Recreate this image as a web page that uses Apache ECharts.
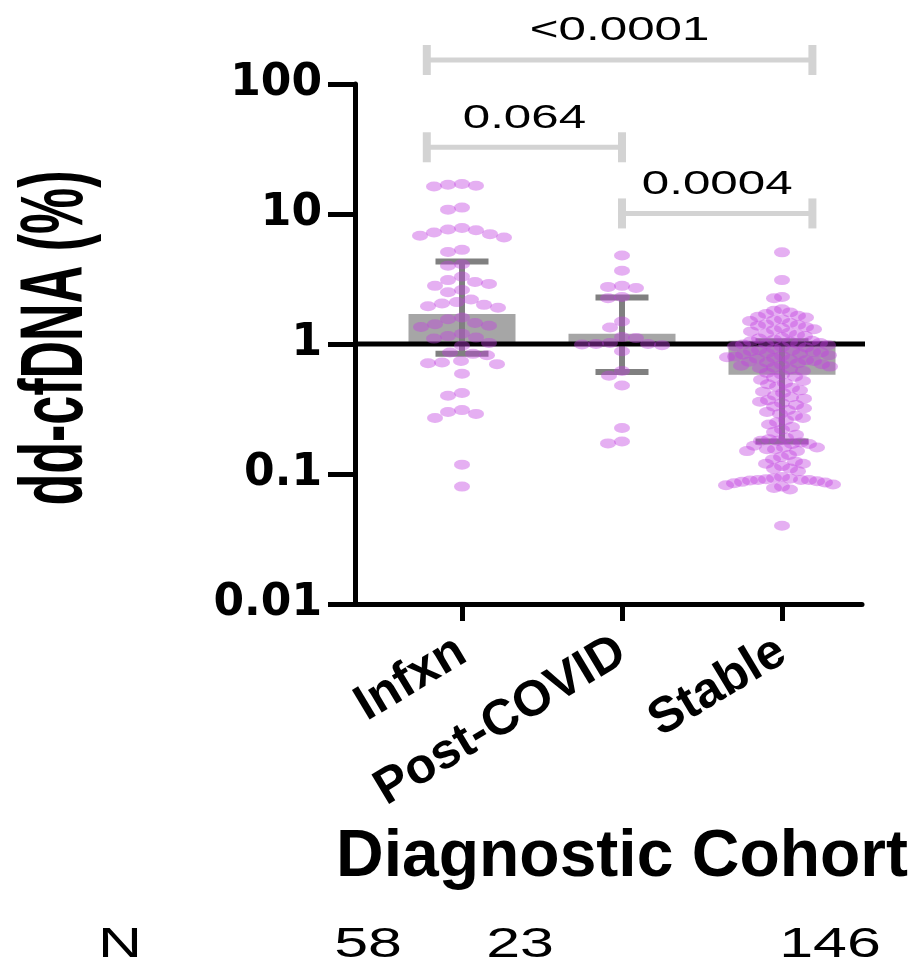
<!DOCTYPE html>
<html>
<head>
<meta charset="utf-8">
<script src="https://cdn.jsdelivr.net/npm/echarts@6/dist/echarts.min.js"></script>
<style>
  html, body { margin: 0; padding: 0; background: #fff; }
  #main { width: 922px; height: 962px; }
</style>
</head>
<body>
<div id="main"></div>
<script>
// categories and per-patient values (dd-cfDNA %)
var categories = ['Infxn', 'Post-COVID', 'Stable'];
var groupN = ['58', '23', '146'];

var infxn = [17.0, 16.8, 16.5, 16.3, 11.2, 10.8,
  7.8, 7.6, 7.5, 7.2, 7.0, 6.8, 6.6, 5.3, 5.1, 4.1, 4.0,
  3.3, 3.1, 3.0, 2.9, 2.8, 2.6, 2.5, 2.2, 2.1, 2.05, 2.0, 1.95, 1.9,
  1.6, 1.55, 1.45, 1.42, 1.38, 1.35, 1.2, 1.15, 1.12, 1.1, 1.02, 0.97,
  0.86, 0.84, 0.82, 0.74, 0.72, 0.71, 0.7, 0.59, 0.42, 0.40,
  0.31, 0.30, 0.29, 0.27, 0.118, 0.08];

var postCovid = [4.8, 3.66, 2.8, 2.75, 2.7, 2.3, 2.25, 1.49, 1.34, 1.13, 1.11,
  1.02, 1.0, 1.0, 0.99, 0.98, 0.88, 0.62, 0.57, 0.48, 0.226, 0.178, 0.172];

var stable = [5.07, 3.1, 2.3, 2.25,
  1.85, 1.8, 1.75, 1.7, 1.65, 1.62, 1.6, 1.55, 1.52, 1.5,
  1.45, 1.42, 1.4, 1.38, 1.35, 1.32, 1.3, 1.28, 1.25, 1.22, 1.2, 1.18, 1.15, 1.12, 1.1,
  1.08, 1.06, 1.05, 1.04, 1.02, 1.0, 1.0, 0.99, 0.98, 0.96, 0.95, 0.94, 0.92,
  0.9, 0.89, 0.88, 0.87, 0.86, 0.85, 0.84, 0.83, 0.82, 0.81, 0.8, 0.79, 0.78, 0.77,
  0.76, 0.75, 0.74, 0.73, 0.72, 0.71, 0.7, 0.69, 0.68, 0.67, 0.66, 0.65, 0.64, 0.62,
  0.6, 0.58, 0.56, 0.55, 0.53, 0.52, 0.5, 0.49, 0.47, 0.46, 0.44, 0.43, 0.42, 0.4,
  0.39, 0.38, 0.37, 0.36, 0.35, 0.34, 0.33, 0.32, 0.31, 0.3, 0.29, 0.28, 0.27,
  0.26, 0.25, 0.24, 0.23, 0.22, 0.21, 0.2, 0.19,
  0.185, 0.18, 0.18, 0.175, 0.17, 0.17, 0.165, 0.16, 0.16, 0.155, 0.155, 0.15, 0.15,
  0.14, 0.135, 0.13, 0.125, 0.12, 0.12, 0.115, 0.11, 0.11, 0.105,
  0.095, 0.093, 0.092, 0.091, 0.09, 0.09, 0.09, 0.089, 0.088, 0.087, 0.086, 0.085,
  0.083, 0.082, 0.08, 0.078, 0.076, 0.04];

// bar (low/high) and error bar ends per group
var barLow = [1.0, 1.0, 0.58];
var barHigh = [1.7, 1.2, 1.06];
var errLow = [0.84, 0.61, 0.178];
var errHigh = [4.32, 2.28, 1.05];

// p-value brackets: x from / to (category units), height (y value), label
var bracketFrom = [0.78, 0.78, 2.0];
var bracketTo = [3.19, 2.0, 3.19];
var bracketLevel = [153, 32.6, 10.1];
var bracketText = ['<0.0001', '0.064', '0.0004'];

var refValue = 1;
var xMin = 0.33125, xMax = 3.5;

var chart = echarts.init(document.getElementById('main'));

var barData = categories.map(function (c, i) { return [i + 1, barLow[i], barHigh[i]]; });
var errData = categories.map(function (c, i) { return [i + 1, errLow[i], errHigh[i]]; });
var bracketData = bracketText.map(function (t, i) { return [bracketFrom[i], bracketLevel[i], bracketTo[i], i]; });

function nText(x, t) {
  return {
    type: 'text', x: x, y: 945, scaleX: 1.45,
    style: { text: t, font: '42px "Liberation Sans"', fill: '#000', align: 'center', verticalAlign: 'middle' }
  };
}

var option = {
  animation: false,
  backgroundColor: '#fff',
  grid: { left: 355, right: 60, top: 84, bottom: 358, outerBoundsMode: 'none' },
  xAxis: {
    type: 'value', min: xMin, max: xMax,
    splitLine: { show: false },
    axisLine: { onZero: false, lineStyle: { color: '#000', width: 5 } },
    axisTick: { show: true, customValues: [1, 2, 3], length: 17, lineStyle: { color: '#000', width: 5 } },
    axisLabel: {
      customValues: [1, 2, 3], rotate: 31, margin: 44, color: '#000',
      fontFamily: 'Liberation Sans', fontWeight: 'bold', fontSize: 50,
      formatter: function (v) { return categories[Math.round(v) - 1]; }
    }
  },
  yAxis: {
    type: 'log', logBase: 10, min: 0.01, max: 100,
    splitLine: { show: false },
    axisLine: { onZero: false, lineStyle: { color: '#000', width: 5 } },
    axisTick: { length: 27, lineStyle: { color: '#000', width: 5 } },
    axisLabel: {
      margin: 33, color: '#000', fontFamily: 'DejaVu Sans', fontWeight: 'bold', fontSize: 44,
      formatter: function (v) { return String(+(+v).toPrecision(1)); }
    }
  },
  graphic: [
    {
      type: 'text', x: 58, y: 338, rotation: Math.PI / 2, scaleY: 1.7,
      style: { text: 'dd-cfDNA (%)', font: 'bold 52px "Liberation Sans"', fill: '#000', align: 'center', verticalAlign: 'middle' }
    },
    {
      type: 'text', x: 622, y: 858,
      style: { text: 'Diagnostic Cohort', font: 'bold 66px "Liberation Sans"', fill: '#000', align: 'center', verticalAlign: 'middle' }
    },
    nText(120, 'N'), nText(368, groupN[0]), nText(520, groupN[1]), nText(830, groupN[2])
  ],
  series: [
    {
      id: 'bars', type: 'custom', data: barData, z: 2,
      renderItem: function (params, api) {
        var lo = api.coord([api.value(0), api.value(1)]);
        var hi = api.coord([api.value(0), api.value(2)]);
        var w = 107;
        return { type: 'rect', shape: { x: lo[0] - w / 2, y: hi[1], width: w, height: lo[1] - hi[1] }, style: { fill: '#a6a6a6' } };
      }
    },
    {
      id: 'errors', type: 'custom', data: errData, z: 3,
      renderItem: function (params, api) {
        var lo = api.coord([api.value(0), api.value(1)]);
        var hi = api.coord([api.value(0), api.value(2)]);
        var cw = 53, st = { stroke: '#808080', lineWidth: 6 };
        return {
          type: 'group', children: [
            { type: 'line', shape: { x1: lo[0], y1: lo[1], x2: hi[0], y2: hi[1] }, style: st },
            { type: 'line', shape: { x1: lo[0] - cw / 2, y1: lo[1], x2: lo[0] + cw / 2, y2: lo[1] }, style: st },
            { type: 'line', shape: { x1: hi[0] - cw / 2, y1: hi[1], x2: hi[0] + cw / 2, y2: hi[1] }, style: st }
          ]
        };
      }
    },
    {
      id: 'ref', type: 'line', z: 4, clip: false, symbol: 'none', silent: true,
      data: [[xMin, refValue], [3.83, refValue]],
      lineStyle: { color: '#000', width: 5 }
    },
    {
      id: 'brackets', type: 'custom', data: bracketData, clip: false, z: 4,
      renderItem: function (params, api) {
        var a = api.coord([api.value(0), api.value(1)]);
        var b = api.coord([api.value(2), api.value(1)]);
        var st = { stroke: '#d3d3d3', lineWidth: 5 };
        var cap = { stroke: '#d3d3d3', lineWidth: 8 };
        return {
          type: 'group', children: [
            { type: 'line', shape: { x1: a[0], y1: a[1], x2: b[0], y2: b[1] }, style: st },
            { type: 'line', shape: { x1: a[0], y1: a[1] - 15, x2: a[0], y2: a[1] + 15 }, style: cap },
            { type: 'line', shape: { x1: b[0], y1: b[1] - 15, x2: b[0], y2: b[1] + 15 }, style: cap },
            {
              type: 'text', x: (a[0] + b[0]) / 2, y: a[1] - 29, scaleX: 1.45,
              style: { text: bracketText[api.value(3)], font: '34px "Liberation Sans"', fill: '#000', align: 'center', verticalAlign: 'middle' }
            }
          ]
        };
      }
    }
  ]
};

chart.setOption(option);

// beeswarm placement computed from the values through the chart's own scales
function swarm(vals, cx, rx, ry) {
  var out = [];
  var cxPx = chart.convertToPixel({ gridIndex: 0 }, [cx, 1])[0];
  var pts = vals.map(function (v) {
    return { v: v, py: chart.convertToPixel({ gridIndex: 0 }, [cx, v])[1] };
  });
  pts.sort(function (a, b) { return a.py - b.py; });
  var placed = [];
  pts.forEach(function (p) {
    var off = 0;
    for (var k = 0; k < 600; k++) {
      var o = (k % 2 ? -1 : 1) * Math.ceil(k / 2);
      var hit = placed.some(function (q) {
        var dx = (q.px - o) / rx, dy = (q.py - p.py) / ry;
        return dx * dx + dy * dy < 1;
      });
      if (!hit) { off = o; break; }
    }
    placed.push({ px: off, py: p.py });
    out.push([chart.convertFromPixel({ gridIndex: 0 }, [cxPx + off, p.py])[0], p.v]);
  });
  return out;
}

var dots = [].concat(swarm(infxn, 1, 14, 12), swarm(postCovid, 2, 14, 11), swarm(stable, 3, 8, 9));

chart.setOption({
  series: [{
    id: 'dots', type: 'scatter', data: dots, z: 5,
    symbol: 'circle', symbolSize: [16, 10],
    itemStyle: { color: '#c040e0', opacity: 0.42 }
  }]
});
</script>
</body>
</html>
